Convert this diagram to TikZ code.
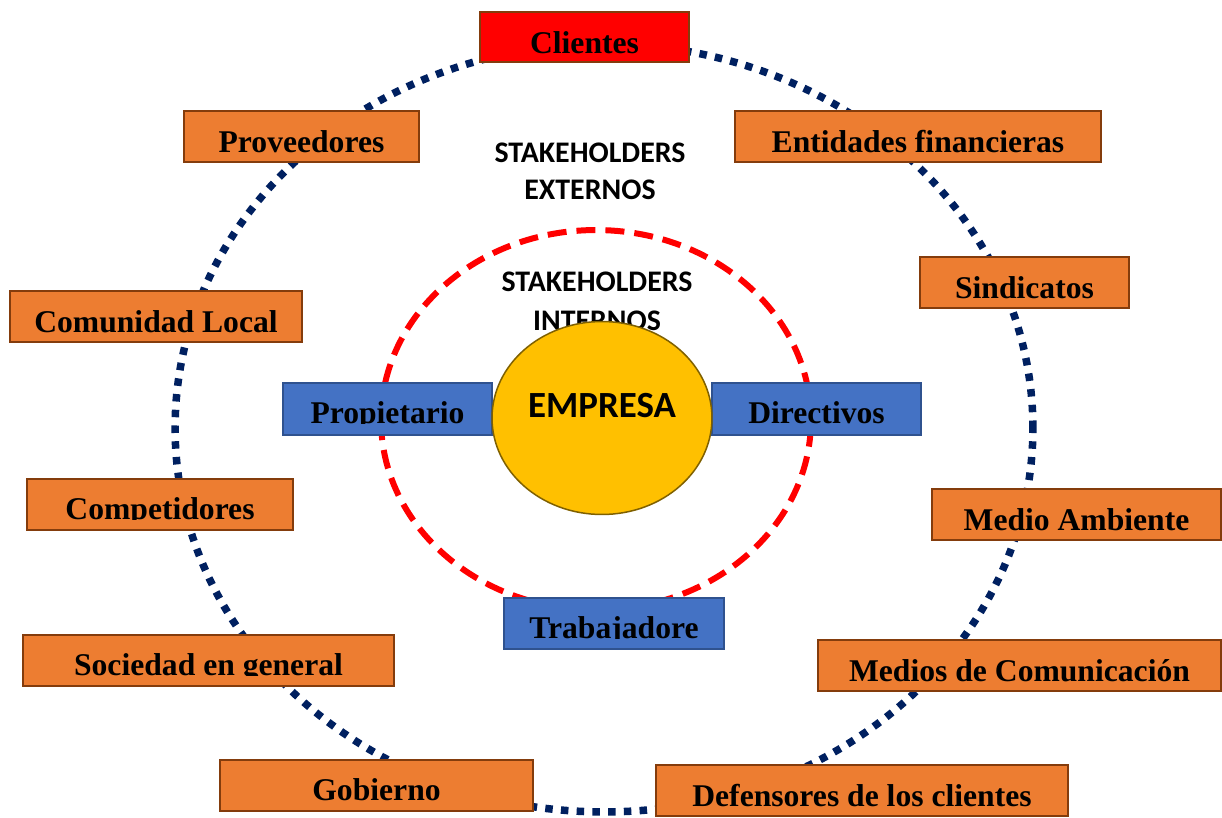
\documentclass[tikz,border=0pt]{standalone}
\usepackage{fontspec}
\setmainfont{Liberation Serif}
\newfontfamily\calfont{Carlito}
\usetikzlibrary{fit,shapes.geometric}
\definecolor{navy}{HTML}{002060}
\definecolor{orng}{HTML}{ED7D31}
\definecolor{bblue}{HTML}{4472C4}
\definecolor{bbord}{HTML}{2F528F}
\definecolor{brwn}{HTML}{843C0C}
\definecolor{yell}{HTML}{FFC000}
\definecolor{yellbord}{HTML}{7F6000}
\tikzset{
  sbox/.style={draw=brwn, fill=orng, line width=0.035cm, inner sep=0pt},
  rbox/.style={draw=brwn, fill=red, line width=0.035cm, inner sep=0pt},
  bbox/.style={draw=bbord, fill=bblue, line width=0.035cm, inner sep=0pt},
  lbl/.style={font=\fontsize{18}{20}\selectfont\bfseries, anchor=base, inner sep=0pt},
  stk/.style={font=\calfont\fontsize{17}{19}\selectfont\bfseries, inner sep=0pt},
  outerring/.style={draw=navy, line width=0.15cm, dash pattern=on 0.15cm off 0.165cm},
  innerring/.style={draw=red, line width=0.12cm, dash pattern=on 0.38cm off 0.2cm},
}
% #1 name, #2 x1, #3 y1, #4 x2, #5 y2, #6 box style, #7 baseline offset, #8 clip offset, #9 text
\newcommand\stbox[9]{%
  \node[#6, fit={(#2,#3) (#4,#5)}] (#1) {};
  \begin{scope}
    \clip (#2,#3) rectangle (#4,{(#3+#5)/2+#8});
    \node[lbl] (#1t) at ({(#2+#4)/2},{(#3+#5)/2+#7}) {#9};
  \end{scope}}
\begin{document}
\begin{tikzpicture}[x=0.02cm,y=-0.02cm]
\useasboundingbox (0,0) rectangle (1222,817);
% rings
\draw[outerring] (604,428) ellipse [x radius=8.58cm, y radius=7.68cm];
\draw[innerring] (596,420) ellipse [x radius=4.3cm, y radius=3.8cm];
% titles
\node[stk] (ext1) at (590,153) {STAKEHOLDERS};
\node[stk] (ext2) at (590,190) {EXTERNOS};
\node[stk] (int1) at (597,282) {STAKEHOLDERS};
\node[stk] (int2) at (597,321) {INTERNOS};
% external stakeholders
\stbox{cli}{480}{12}{689}{62}{rbox}{16.5}{25}{Clientes}
\stbox{prov}{184}{111}{419}{162}{sbox}{16}{25}{Proveedores}
\stbox{ent}{735}{111}{1101}{162}{sbox}{16}{25}{Entidades financieras}
\stbox{sind}{920}{257}{1129}{308}{sbox}{16}{25}{Sindicatos}
\stbox{com}{10}{291}{302}{342}{sbox}{16}{25}{Comunidad Local}
\stbox{comp}{27}{479}{293}{530}{sbox}{14.5}{15}{Competidores}
\stbox{med}{932}{489}{1221}{540}{sbox}{16}{25}{Medio Ambiente}
\stbox{soc}{23}{635}{394}{686}{sbox}{14.5}{15}{Sociedad en general}
\stbox{mdc}{818}{640}{1221}{691}{sbox}{16}{25}{Medios de Comunicación}
\stbox{gob}{220}{760}{533}{811}{sbox}{14.5}{15}{Gobierno}
\stbox{def}{656}{765}{1068}{816}{sbox}{16}{25}{Defensores de los clientes}
% internal stakeholders
\stbox{prop}{283}{383}{492}{435}{bbox}{14}{14.5}{Propietario}
\stbox{dir}{712}{383}{921}{435}{bbox}{14}{14.5}{Directivos}
\stbox{trab}{504}{598}{724}{649}{bbox}{14.5}{15}{Trabajadore}
% company
\node[ellipse, draw=yellbord, line width=0.03cm, fill=yell, minimum width=4.4cm, minimum height=3.86cm, inner sep=0pt] (emp) at (602,418) {};
\node[font=\calfont\fontsize{21}{23}\selectfont\bfseries, inner sep=0pt] (empt) at (602,406) {EMPRESA};
\end{tikzpicture}
\end{document}
